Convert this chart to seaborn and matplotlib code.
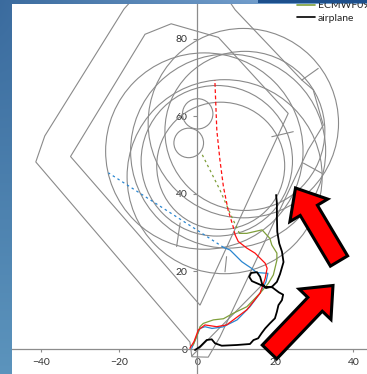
import numpy as np
import pandas as pd
import matplotlib
matplotlib.use("Agg")
import matplotlib.pyplot as plt
from matplotlib.patches import Circle, Polygon, FancyArrow, Rectangle
from matplotlib.lines import Line2D
import seaborn as sns

# ---------------- data ----------------
# flight / forecast tracks (km east, km north of the launch site)
red_x = [-1.9, -0.85, 0.26, 1.97, 4.97, 7.5, 12.7, 16.1, 17.4, 17.9, 17.4, 14.8, 12.7, 10.5, 9.7]
red_y = [0.2, 1.9, 4.9, 6.2, 5.75, 6.2, 10.1, 14.4, 18.2, 20.8, 22.1, 24.7, 26.0, 27.7, 29.4]
red_fx = [9.7, 9.2, 7.9, 6.7, 5.8, 5.0, 4.5]
red_fy = [29.4, 31.5, 35.8, 41.8, 48.7, 56.4, 69.3]

blue_x = [-1.44, -0.59, 0.69, 1.97, 3.77, 6.6, 10.2, 13.5, 16.1, 17.6, 18.1, 15.2, 13.9, 12.7, 11.4, 10.1, 8.4, 6.7]
blue_y = [0.18, 2.3, 5.3, 5.75, 5.3, 5.7, 7.5, 10.9, 14.4, 17.3, 19.5, 19.7, 20.8, 21.6, 22.5, 23.8, 25.5, 26.2]
blue_fx = [6.7, -0.15, -22.8]
blue_fy = [26.2, 30.7, 45.4]

green_x = [-1.03, -0.15, 0.69, 1.54, 4.1, 6.7, 9.2, 12.7, 16.1, 18.2, 19.5, 20.4, 20.4, 19.1, 18.6, 16.6, 12.7, 10.8]
green_y = [1.03, 3.2, 5.75, 6.6, 7.5, 7.8, 9.2, 10.9, 14.4, 16.9, 19.1, 22.9, 24.7, 26.8, 28.5, 30.7, 29.8, 29.8]
green_fx = [10.8, 8.4, 5.8, 1.1]
green_fy = [29.8, 35.0, 41.0, 50.4]

plane_x = [-0.59, 0.69, 2.41, 3.69, 4.54, 6.26, 10.1, 13.5, 14.4, 15.6, 16.5, 17.4, 18.6, 19.9,
           20.4, 20.8, 21.7, 22.0, 20.9, 19.2, 17.4, 15.6, 14.0, 13.3, 13.8, 15.3, 16.1, 16.6,
           17.6, 19.2, 20.4, 21.2, 22.1, 21.7, 21.0, 20.5, 20.4, 20.4, 20.2]
plane_y = [-0.26, 0.59, 2.32, 2.5, 1.47, 0.85, 1.03, 1.29, 2.3, 2.76, 4.1, 5.3, 6.6, 7.9,
           9.6, 11.3, 12.6, 14.0, 14.6, 15.9, 16.0, 16.8, 17.5, 18.6, 19.6, 19.8, 18.6, 16.8,
           15.7, 16.1, 17.3, 19.3, 22.4, 25.1, 27.2, 30.2, 34.1, 37.6, 39.7]

# range circles: centre x, centre y, radius
ring_cx = [0.1, -2.2, 11.8, 12.2, 1.8, 7.9, 7.0, 5.0, 6.0]
ring_cy = [60.6, 53.1, 58.2, 56.2, 51.0, 51.0, 44.4, 48.5, 47.2]
ring_r = [3.9, 3.8, 24.4, 20.5, 25.3, 25.0, 25.0, 19.4, 16.4]

# airspace outlines
outer_x = [-18.8, -12.1, 4.5, 9.7, 26.8, 29.7, 32.3, 28.4, 5.8, 2.8, -1.4, -1.9, -41.4, -39.1]
outer_y = [87.6, 95.1, 95.1, 87.4, 69.3, 66.8, 57.7, 51.3, 3.1, -2.1, -2.0, 1.8, 48.2, 54.9]
inner_x = [-32.5, -13.4, -6.7, 5.4, 23.3, 0.7]
inner_y = [49.6, 81.1, 83.8, 80.3, 60.7, 11.3]

# sector boundary segments: x0, y0, x1, y1
seg_x0 = [26.8, 19.1, -4.4, 27.2, 7.5, -1.4]
seg_y0 = [69.3, 54.7, 32.5, 47.9, 23.8, -1.8]
seg_x1 = [31.0, 24.6, -5.3, 31.9, 7.1, 16.6]
seg_y1 = [72.3, 56.0, 26.4, 45.3, 19.9, 16.5]

x_ticks = [-40, -20, 0, 20, 40]
y_ticks = [0, 20, 40, 60, 80]

# ---------------- figure ----------------
sns.set_theme(style="white")
plt.rcParams["font.family"] = ["Lato", "DejaVu Sans"]

W, H = 367, 374
fig = plt.figure(figsize=(W / 100, H / 100), dpi=100)

# slide background gradient
bg = fig.add_axes([0, 0, 1, 1], zorder=-5)
yy, xx = np.mgrid[0:H, 0:W]
c0 = np.array([0.23, 0.42, 0.62])
c1 = np.array([0.36, 0.58, 0.74])
c2 = np.array([0.45, 0.62, 0.80])
t_y = (yy / H)[..., None]
t_x = np.clip(xx / 258, 0, 1)[..., None]
img = c0 + (c1 - c0) * t_y + (c2 - c0) * t_x * (1 - t_y) ** 8
bg.imshow(np.clip(img, 0, 1), extent=(0, W, H, 0), aspect="auto")
bg.set_xlim(0, W)
bg.set_ylim(H, 0)
bg.axis("off")

ax = fig.add_axes([12 / W, 0, (W - 12) / W, (H - 4) / H], zorder=1)
ax.set_facecolor("white")
ax.set_xlim(-47.5, 43.5)
ax.set_ylim(-6.44, 88.9)

grey = "#8a8a8a"
for cx, cy, r in zip(ring_cx, ring_cy, ring_r):
    ax.add_patch(Circle((cx, cy), r, fill=False, edgecolor=grey, lw=0.8, zorder=2))
ax.add_patch(Polygon(np.column_stack([outer_x, outer_y]), closed=True, fill=False,
                     edgecolor=grey, lw=0.8, zorder=2))
ax.add_patch(Polygon(np.column_stack([inner_x, inner_y]), closed=True, fill=False,
                     edgecolor=grey, lw=0.8, zorder=2))
for x0, y0, x1, y1 in zip(seg_x0, seg_y0, seg_x1, seg_y1):
    ax.plot([x0, x1], [y0, y1], color=grey, lw=0.8, zorder=2)


def track(xs, ys, color, **kw):
    df = pd.DataFrame({"x": xs, "y": ys})
    sns.lineplot(data=df, x="x", y="y", sort=False, estimator=None, color=color,
                 ax=ax, zorder=4, **kw)


track(blue_x, blue_y, "#2a86d0", lw=0.9)
track(blue_fx, blue_fy, "#2a86d0", lw=0.9, dashes=(2, 2.5))
track(green_x, green_y, "#7f9f3a", lw=0.9)
track(green_fx, green_fy, "#7f9f3a", lw=0.9, dashes=(2, 2.5))
track(red_x, red_y, "#ff1010", lw=0.9)
track(red_fx, red_fy, "#ff1010", lw=0.9, dashes=(3, 2))
track(plane_x, plane_y, "black", lw=1.3)

# axes crossing at the origin
for side in ["top", "right"]:
    ax.spines[side].set_visible(False)
ax.spines["bottom"].set_position(("data", 0))
ax.spines["left"].set_position(("data", 0))
for side in ["bottom", "left"]:
    ax.spines[side].set_color("#8c8c8c")
    ax.spines[side].set_linewidth(0.9)
    ax.spines[side].set_zorder(3)
ax.set_xticks(x_ticks)
ax.set_yticks(y_ticks)
ax.tick_params(axis="x", direction="out", length=2.5, width=0.8, color="#8c8c8c",
               labelsize=7.5, labelcolor="#333333", pad=4, bottom=True)
ax.tick_params(axis="y", direction="out", length=3, width=0.8, color="#8c8c8c",
               labelsize=7.5, labelcolor="#333333", pad=4, left=True)
ax.set_xlabel("")
ax.set_ylabel("")
ax.grid(False)

# legend (upper entries run off the top of the slide)
handles = [Line2D([], [], color="#7f9f3a", lw=1.2), Line2D([], [], color="black", lw=1.2)]
fig.legend(handles, ["ECMWF09z", "airplane"], loc="upper left",
           bbox_to_anchor=(297 / W, 1 - 1 / H), frameon=False, fontsize=7.5,
           handlelength=1.7, handletextpad=0.3, labelspacing=0.3, borderpad=0,
           borderaxespad=0)

# overlay in pixel units for the slide decorations
ov = fig.add_axes([0, 0, 1, 1], zorder=10)
ov.set_xlim(0, W)
ov.set_ylim(H, 0)
ov.axis("off")
ov.add_patch(Rectangle((258, 0), W - 258, 3.4, color="#1d4f8c", lw=0))
ov.add_patch(FancyArrow(339, 261, -43.5, -73, width=20, head_width=44,
                        head_length=26, length_includes_head=True,
                        facecolor="#ff0000", edgecolor="black", lw=2.2))
ov.add_patch(FancyArrow(269.5, 352, 63.5, -66.5, width=20, head_width=44,
                        head_length=26, length_includes_head=True,
                        facecolor="#ff0000", edgecolor="black", lw=2.2))

fig.savefig("out.png", dpi=100)
